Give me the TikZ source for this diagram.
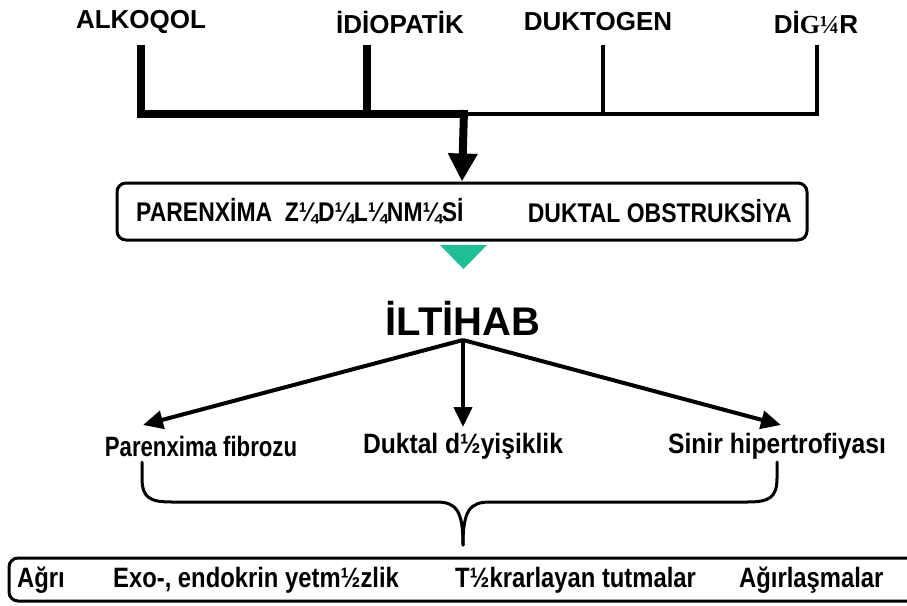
\documentclass[tikz,border=0pt]{standalone}
\usepackage{fontspec}
\setmainfont{Liberation Sans}
\newfontfamily\narrow[FakeStretch=0.85]{Liberation Sans}
\newfontfamily\narrowb[FakeStretch=0.88]{Liberation Sans}
\newfontfamily\serifg{Liberation Serif}
\usetikzlibrary{arrows.meta}
\definecolor{tealtri}{RGB}{30,190,150}
\begin{document}
\begin{tikzpicture}[x=1pt,y=-1pt,
  toplbl/.style={font=\bfseries\fontsize{26}{30}\selectfont, inner sep=0pt},
  boxtxt/.style={font=\narrow\bfseries\fontsize{27}{31}\selectfont, inner sep=0pt},
  midlbl/.style={font=\narrowb\bfseries\fontsize{28}{32}\selectfont, inner sep=0pt},
  botlbl/.style={font=\narrow\bfseries\fontsize{28}{32}\selectfont, inner sep=0pt},
  heavy/.style={line width=8pt},
  lightln/.style={line width=4pt},
  rbox/.style={draw, line width=3pt, rounded corners=9pt, inner sep=0pt},
  thinarrow/.style={line width=4pt, -{Triangle[length=20pt,width=18pt]}}]
\useasboundingbox (0,0) rectangle (907,605);
\clip (0,0) rectangle (907,605);
% top labels
\node[toplbl] (alk) at (141,22) {ALKOQOL};
\node[toplbl] (idi) at (400,22) {İDİOPATİK};
\node[toplbl] (duk) at (598,22) {DUKTOGEN};
\node[toplbl] (dig) at (816,22) {Dİ{\serifg\bfseries G¼}R};
% junction points
\coordinate (a1) at (141,45);
\coordinate (i1) at (367,45);
\coordinate (d1) at (603,45);
\coordinate (g1) at (817,45);
\coordinate (j) at (464,114);
% box 1
\node[rbox, minimum width=690pt, minimum height=57pt] (box1) at (462,211.5) {};
\node[boxtxt, anchor=west] (pz) at (136,211) {PARENXİMA\ \ Z¼D¼L¼NM¼Sİ};
\node[boxtxt, anchor=east] (do) at (792,211) {DUKTAL OBSTRUKSİYA};
% connectors
\draw[heavy] (a1) |- (j);
\draw[heavy] (i1) -- (i1 |- j);
\draw[lightln] (j) -| (g1);
\draw[lightln] (d1) -- (d1 |- j);
\draw[line width=8pt, -{Triangle[length=28pt,width=28pt]}] ([yshift=4pt]j) -- (box1.north);
% teal triangle
\fill[tealtri] (440,245) -- (487,245) -- (463.5,269) -- cycle;
% iltihab
\node[font=\bfseries\fontsize{40}{45}\selectfont, inner sep=0pt] (ilt) at (463,318) {İLTİHAB};
\coordinate (src) at (463,340);
\node[midlbl] (pf) at (201,446) {\scalebox{0.9}[1]{Parenxima fibrozu}};
\node[midlbl] (dd) at (463,446) {Duktal d½yişiklik};
\node[midlbl] (sh) at (777,446) {Sinir hipertrofiyası};
\draw[thinarrow] (src) -- (143,425);
\draw[thinarrow] (src) -- (463,427);
\draw[thinarrow] (src) -- (781,425);
% brace
\draw[line width=3pt, line cap=round]
  (142,462) -- (142,478) .. controls (142,498) and (150,502) .. (172,502)
  -- (436,502) .. controls (456,502) and (463,510) .. (463,545);
\draw[line width=3pt, line cap=round]
  (777,462) -- (777,478) .. controls (777,498) and (769,502) .. (747,502)
  -- (490,502) .. controls (470,502) and (463,510) .. (463,545);
% bottom box
\draw[line width=3pt, rounded corners=9pt] (960,558) -- (9,558) -- (9,601) -- (960,601);
\node[botlbl, anchor=west] (ag) at (17,580) {Ağrı};
\node[botlbl, anchor=west] (ex) at (113,580) {Exo-, endokrin yetm½zlik};
\node[botlbl, anchor=west] (tk) at (455,580) {T½krarlayan tutmalar};
\node[botlbl, anchor=west] (al) at (739,580) {Ağırlaşmalar};
\end{tikzpicture}
\end{document}
